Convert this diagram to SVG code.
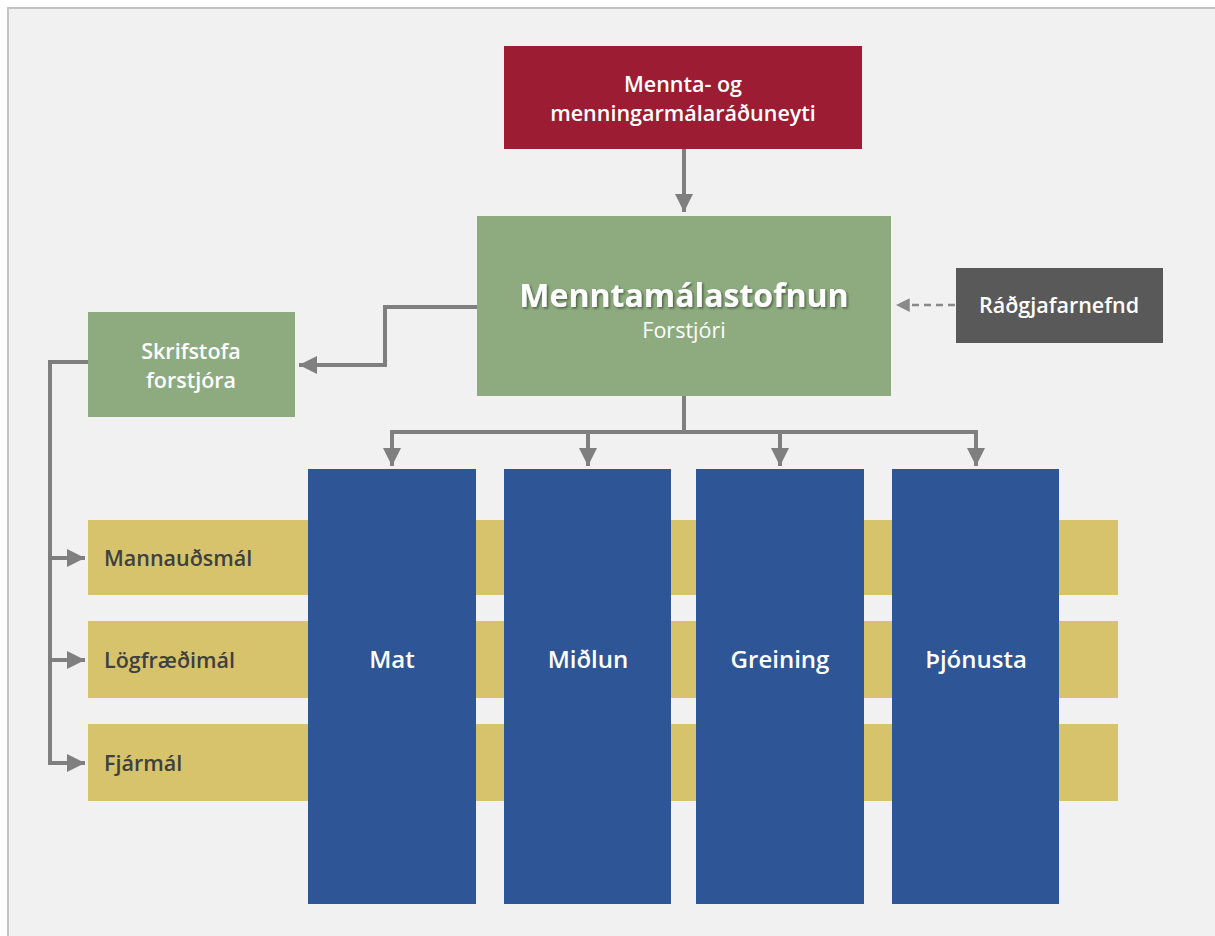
<svg xmlns="http://www.w3.org/2000/svg" width="1215" height="936" viewBox="0 0 1215 936">
<style>
.t{font-family:"Open Sans","Noto Sans","Liberation Sans",sans-serif;font-weight:600;fill:#fff;text-anchor:middle}
.d{font-family:"Open Sans","Noto Sans","Liberation Sans",sans-serif;font-weight:600;fill:#404040;font-size:21.5px}
.c{fill:none;stroke:#7f7f7f;stroke-width:4}
</style>
<defs>
<marker id="ah" viewBox="0 0 10 10" refX="10" refY="5" markerWidth="4.5" markerHeight="4.5" orient="auto" markerUnits="strokeWidth">
<path d="M0,0 L10,5 L0,10 z" fill="#7f7f7f"/>
</marker>
<marker id="ahs" viewBox="0 0 10 10" refX="10" refY="5" markerWidth="5.5" markerHeight="5.5" orient="auto" markerUnits="strokeWidth">
<path d="M0,0 L10,5 L0,10 z" fill="#8a8a8a"/>
</marker>
<filter id="sh" x="-10%" y="-30%" width="120%" height="160%">
<feDropShadow dx="1.5" dy="1.5" stdDeviation="1.2" flood-color="#000" flood-opacity="0.45"/>
</filter>
</defs>
<rect x="0" y="0" width="1215" height="936" fill="#fff"/>
<rect x="8" y="8" width="1220" height="940" fill="#f1f1f1" stroke="#c3c3c3" stroke-width="2"/>

<g id="bands">
<g id="band-mannaudsmal"><rect x="88" y="520" width="1030" height="75" fill="#d6c36b"/><text class="d" x="104" y="566">Mannauðsmál</text></g>
<g id="band-logfraedimal"><rect x="88" y="621" width="1030" height="77" fill="#d6c36b"/><text class="d" x="104" y="668">Lögfræðimál</text></g>
<g id="band-fjarmal"><rect x="88" y="724" width="1030" height="77" fill="#d6c36b"/><text class="d" x="104" y="771">Fjármál</text></g>
</g>

<g id="connectors">
<path class="c" d="M684,149 V212" marker-end="url(#ah)"/>
<path class="c" d="M477,307 H385 V365 H299" marker-end="url(#ah)"/>
<path d="M955,305 H896" fill="none" stroke="#8a8a8a" stroke-width="2.5" stroke-dasharray="7,5" marker-end="url(#ahs)"/>
<path class="c" d="M684,396 V432"/>
<path class="c" d="M392,432 H976"/>
<path class="c" d="M392,430 V466" marker-end="url(#ah)"/>
<path class="c" d="M588,430 V466" marker-end="url(#ah)"/>
<path class="c" d="M780,430 V466" marker-end="url(#ah)"/>
<path class="c" d="M976,430 V466" marker-end="url(#ah)"/>
<path class="c" d="M88,362 H50 V763 H85" marker-end="url(#ah)"/>
<path class="c" d="M50,558 H85" marker-end="url(#ah)"/>
<path class="c" d="M50,660 H85" marker-end="url(#ah)"/>
</g>

<g id="raduneyti">
<rect x="504" y="46" width="358" height="103" fill="#9b1c33"/>
<text class="t" font-size="21.5" x="683" y="92">Mennta- og</text>
<text class="t" font-size="21.5" x="683" y="121">menningarmálaráðuneyti</text>
</g>

<g id="menntamalastofnun">
<rect x="477" y="216" width="414" height="180" fill="#8dab7f"/>
<text class="t" font-size="32" x="684" y="307" filter="url(#sh)" style="font-weight:700">Menntamálastofnun</text>
<text class="t" font-size="21.5" x="684" y="338" style="font-weight:500">Forstjóri</text>
</g>

<g id="radgjafarnefnd">
<rect x="956" y="268" width="207" height="75" fill="#595959"/>
<text class="t" font-size="21.5" x="1059" y="313">Ráðgjafarnefnd</text>
</g>

<g id="skrifstofa">
<rect x="88" y="312" width="207" height="105" fill="#8dab7f"/>
<text class="t" font-size="21.5" x="191" y="359">Skrifstofa</text>
<text class="t" font-size="21.5" x="191" y="388">forstjóra</text>
</g>

<g id="mat"><rect x="308" y="469" width="168" height="435" fill="#2e5596"/><text class="t" font-size="24" x="392" y="668">Mat</text></g>
<g id="midlun"><rect x="504" y="469" width="167" height="435" fill="#2e5596"/><text class="t" font-size="24" x="588" y="668">Miðlun</text></g>
<g id="greining"><rect x="696" y="469" width="168" height="435" fill="#2e5596"/><text class="t" font-size="24" x="780" y="668">Greining</text></g>
<g id="thjonusta"><rect x="892" y="469" width="167" height="435" fill="#2e5596"/><text class="t" font-size="24" x="976" y="668">Þjónusta</text></g>
</svg>
